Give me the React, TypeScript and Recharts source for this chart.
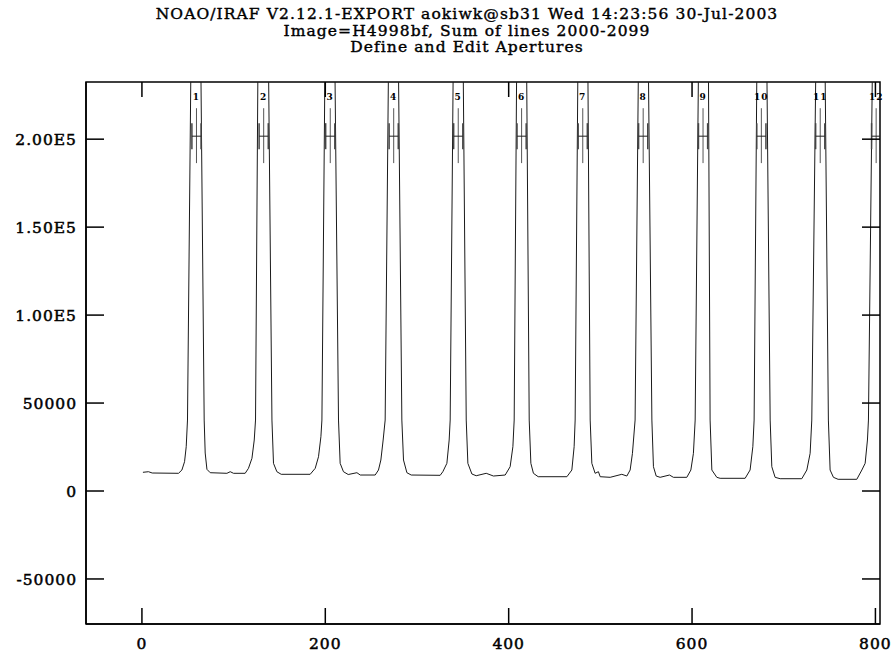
import React from 'react';
import { LineChart, Line, XAxis, YAxis, ReferenceLine, ReferenceDot, ReferenceArea } from 'recharts';

// Traced spectrum: column (pixel) vs summed counts
const columns = [
  1.1, 7.2, 11.2, 39.9,
  43.6, 46.5, 48.3, 49.7, 53.4, 64.3, 67.9, 69.0, 70.9, 74.5, 92.7, 96.3, 99.9, 112.6,
  116.2, 120.0, 122.5, 123.9, 126.5, 138.1, 141.8, 143.5, 147.2, 151.9, 183.5,
  189.0, 192.6, 195.2, 196.3, 199.6, 210.5, 214.4, 216.2, 219.8, 225.0, 234.5, 238.1, 254.4,
  258.0, 260.6, 263.1, 265.3, 268.9, 279.8, 283.5, 285.3, 289.0, 293.7, 325.3, 328.2,
  332.6, 335.1, 336.2, 339.5, 350.4, 353.7, 355.5, 359.9, 364.6, 375.5, 383.4, 396.2,
  401.6, 404.6, 406.0, 408.7, 419.6, 422.4, 424.2, 427.0, 432.2, 463.5,
  468.9, 471.4, 472.5, 475.5, 486.4, 488.9, 490.7, 494.3, 497.9, 499.8, 510.7, 523.4, 528.9, 532.5, 535.0, 537.9,
  541.5, 552.4, 556.2, 557.9, 560.9, 565.2, 575.4, 579.7, 594.3, 598.7, 601.5, 603.4,
  607.0, 617.9, 619.7, 621.6, 627.0, 630.6, 657.9, 663.3, 666.3, 667.7,
  670.7, 681.6, 685.2, 687.0, 690.6, 696.1, 719.7, 725.2, 728.8, 730.6,
  735.0, 745.1, 748.7, 750.6, 754.2, 759.3, 779.7, 785.2, 788.8, 791.3, 792.4, 796.7, 809.5,
];
const counts = [
  10630, 10970, 10230, 10060,
  11930, 16650, 25170, 40340, 240000, 240000, 40340, 21590, 12330, 10400, 10060, 10970, 10060, 10060,
  12900, 18580, 28980, 40340, 240000, 240000, 40340, 15740, 10970, 9490, 9490,
  12900, 19490, 30850, 40340, 240000, 240000, 40340, 15740, 10970, 9380, 10400, 9090, 9090,
  11930, 17610, 28980, 40340, 240000, 240000, 40340, 17610, 10400, 9090, 8920, 10970,
  15740, 28980, 40340, 240000, 240000, 40340, 15740, 9660, 8690, 10060, 8520, 9090,
  13810, 25170, 40340, 240000, 240000, 40340, 15740, 10060, 8130, 8130,
  11930, 25170, 40340, 240000, 240000, 40340, 15740, 10060, 10970, 8130, 7780, 9490, 8520, 11930, 21420, 40340,
  240000, 240000, 40340, 13810, 8520, 7780, 9090, 7780, 7780, 11930, 21420, 40340,
  240000, 240000, 40340, 11930, 7780, 7220, 7220, 11930, 25170, 40340,
  240000, 240000, 40340, 13810, 7780, 6990, 6990, 11930, 21420, 40340,
  240000, 240000, 40340, 11930, 7780, 6650, 6650, 11930, 15740, 28980, 40340, 240000, 240000,
];

// Apertures
const apertureIds = ['1', '2', '3', '4', '5', '6', '7', '8', '9', '10', '11', '12'];
const apertureCenters = [59.5, 132.8, 205.4, 274.6, 345.0, 414.1, 480.8, 546.7, 612.0, 675.6, 739.8, 800.8];
const apertureLow = -5;
const apertureHigh = 5;

const xTicks = [0, 200, 400, 600, 800];
const xTickLabels = ['0', '200', '400', '600', '800'];
const yTicks = [-50000, 0, 50000, 100000, 150000, 200000];
const yTickLabels = ['-50000', '0', '50000', '1.00E5', '1.50E5', '2.00E5'];

const titleLines = [
  'NOAO/IRAF V2.12.1-EXPORT aokiwk@sb31 Wed 14:23:56 30-Jul-2003',
  'Image=H4998bf, Sum of lines 2000-2099',
  'Define and Edit Apertures',
];

const data = columns.map((x, i) => ({ x, y: counts[i] }));

const W = 893;
const H = 653;
const PLOT_LEFT = 86;
const PLOT_RIGHT = 880;
const PLOT_TOP = 82;
const PLOT_BOTTOM = 624;
const FONT = '"DejaVu Serif", serif';

function XTick(props: any) {
  const { x, payload } = props;
  const label = xTickLabels[xTicks.indexOf(payload.value)];
  return (
    <g>
      <line x1={x} x2={x} y1={PLOT_BOTTOM} y2={PLOT_BOTTOM - 16} stroke="#000" strokeWidth={1.5} />
      <line x1={x} x2={x} y1={PLOT_TOP} y2={PLOT_TOP + 15} stroke="#000" strokeWidth={1.5} />
      <text x={x} y={PLOT_BOTTOM + 24.5} textAnchor="middle" fontFamily={FONT} fontSize={15.5} letterSpacing={1} fill="#000" stroke="#000" strokeWidth={0.5}>
        {label}
      </text>
    </g>
  );
}

function YTick(props: any) {
  const { y, payload } = props;
  const label = yTickLabels[yTicks.indexOf(payload.value)];
  return (
    <g>
      <line x1={PLOT_LEFT} x2={PLOT_LEFT + 18} y1={y} y2={y} stroke="#000" strokeWidth={1.5} />
      <line x1={PLOT_RIGHT - 18} x2={PLOT_RIGHT} y1={y} y2={y} stroke="#000" strokeWidth={1.5} />
      <text x={PLOT_LEFT - 9} y={y} dy="0.36em" textAnchor="end" fontFamily={FONT} fontSize={15.5} letterSpacing={1} fill="#000" stroke="#000" strokeWidth={0.5}>
        {label}
      </text>
    </g>
  );
}

export default function App() {
  return (
    <div style={{ position: 'absolute', left: 0, top: 0, width: W, height: H, background: '#fff', overflow: 'hidden' }}>
      <div
        style={{
          position: 'absolute',
          left: 0,
          top: 6,
          width: 934,
          textAlign: 'center',
          fontFamily: FONT,
          fontSize: 15.5,
          letterSpacing: 1.1,
          lineHeight: '16.5px',
          color: '#000',
          whiteSpace: 'pre',
          WebkitTextStroke: '0.4px #000',
        }}
      >
        {titleLines.map((t) => (
          <div key={t}>{t}</div>
        ))}
      </div>
      <LineChart width={W} height={H} data={data} margin={{ top: PLOT_TOP, right: W - PLOT_RIGHT, bottom: 0, left: 26 }}>
        <XAxis
          dataKey="x"
          type="number"
          domain={[-61, 805]}
          ticks={xTicks}
          allowDataOverflow
          height={H - PLOT_BOTTOM}
          tickSize={0}
          tickMargin={0}
          tickLine={false}
          axisLine={{ stroke: '#000', strokeWidth: 1.5 }}
          tick={<XTick />}
          interval={0}
        />
        <YAxis
          type="number"
          domain={[-75600, 232500]}
          ticks={yTicks}
          allowDataOverflow
          width={60}
          tickSize={0}
          tickMargin={0}
          tickLine={false}
          axisLine={{ stroke: '#000', strokeWidth: 1.5 }}
          tick={<YTick />}
          interval={0}
        />
        <ReferenceArea x1={-61} x2={805} y1={-75600} y2={232500} fill="none" stroke="#000" strokeWidth={1.5} ifOverflow="visible" />
        <Line
          dataKey="y"
          type="linear"
          stroke="#1a1a1a"
          strokeWidth={1}
          dot={false}
          activeDot={false}
          isAnimationActive={false}
        />
        {apertureCenters.map((c) => (
          <ReferenceLine
            key={`c${c}`}
            segment={[{ x: c, y: 186400 }, { x: c, y: 217600 }]}
            stroke="#555"
            strokeWidth={1}
            ifOverflow="hidden"
          />
        ))}
        {apertureCenters.map((c) => (
          <ReferenceLine
            key={`l${c}`}
            segment={[{ x: c + apertureLow, y: 194300 }, { x: c + apertureLow, y: 209100 }]}
            stroke="#444"
            strokeWidth={1.5}
            ifOverflow="hidden"
          />
        ))}
        {apertureCenters.map((c) => (
          <ReferenceLine
            key={`r${c}`}
            segment={[{ x: c + apertureHigh, y: 194300 }, { x: c + apertureHigh, y: 209100 }]}
            stroke="#444"
            strokeWidth={1.5}
            ifOverflow="hidden"
          />
        ))}
        {apertureCenters.map((c) => (
          <ReferenceLine
            key={`h${c}`}
            segment={[{ x: c + apertureLow, y: 201700 }, { x: c + apertureHigh, y: 201700 }]}
            stroke="#222"
            strokeWidth={1}
            ifOverflow="hidden"
          />
        ))}
        {apertureCenters.map((c, i) => (
          <ReferenceDot
            key={`t${c}`}
            x={c}
            y={224000}
            r={0}
            fill="none"
            stroke="none"
            ifOverflow="visible"
            label={{ value: apertureIds[i], position: 'center', fontSize: 9, fontWeight: 'bold', fontFamily: FONT, fill: '#000', letterSpacing: 1 }}
          />
        ))}
      </LineChart>
    </div>
  );
}
